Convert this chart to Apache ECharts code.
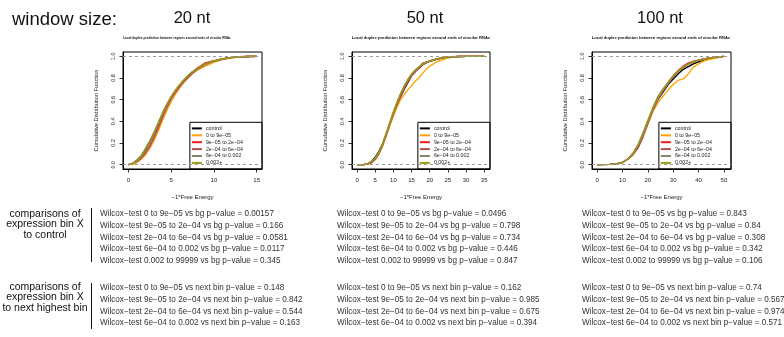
<!DOCTYPE html>
<html>
<head>
<meta charset="utf-8">
<script src="https://cdn.jsdelivr.net/npm/echarts@6/dist/echarts.min.js"></script>
<style>
  html, body { margin: 0; padding: 0; background: #fff; }
  #chart { width: 784px; height: 337px; }
</style>
</head>
<body>
<div id="chart"></div>
<script>
// ---- data ----
const binNames = ["control", "0 to 9e−05", "9e−05 to 2e−04", "2e−04 to 6e−04", "6e−04 to 0.002", "0.002+"];
const windowLabels = ["20 nt", "50 nt", "100 nt"];

// ECDF curves, one x grid per window, one y list per bin (same order as binNames)
const x20 = [0, 0.5, 1, 1.5, 2, 2.5, 3, 3.5, 4, 4.5, 5, 5.5, 6, 6.5, 7, 7.5, 8, 9, 10, 11, 12, 13, 14, 15];
const cdf20 = [
  [0, 0.01, 0.04, 0.08, 0.14, 0.21, 0.29, 0.38, 0.47, 0.55, 0.62, 0.68, 0.73, 0.78, 0.82, 0.855, 0.88, 0.925, 0.955, 0.975, 0.988, 0.995, 0.998, 1],
  [0, 0, 0.02, 0.05, 0.09, 0.15, 0.22, 0.31, 0.41, 0.5, 0.58, 0.65, 0.71, 0.76, 0.8, 0.84, 0.87, 0.91, 0.945, 0.97, 0.985, 0.993, 0.998, 1],
  [0, 0.01, 0.03, 0.06, 0.11, 0.17, 0.25, 0.34, 0.44, 0.53, 0.61, 0.67, 0.72, 0.77, 0.81, 0.85, 0.89, 0.94, 0.96, 0.975, 0.99, 0.996, 0.999, 1],
  [0, 0.01, 0.03, 0.06, 0.11, 0.17, 0.25, 0.35, 0.44, 0.53, 0.61, 0.67, 0.72, 0.77, 0.81, 0.845, 0.875, 0.925, 0.955, 0.975, 0.988, 0.995, 0.998, 1],
  [0, 0.01, 0.03, 0.07, 0.13, 0.2, 0.28, 0.37, 0.46, 0.55, 0.62, 0.68, 0.73, 0.78, 0.82, 0.855, 0.88, 0.925, 0.955, 0.975, 0.988, 0.995, 0.998, 1],
  [0, 0.01, 0.04, 0.08, 0.15, 0.22, 0.3, 0.39, 0.48, 0.56, 0.63, 0.69, 0.74, 0.785, 0.825, 0.86, 0.885, 0.93, 0.958, 0.978, 0.99, 0.996, 0.999, 1]
];
const x50 = [0, 2, 3, 4, 5, 6, 7, 8, 9, 10, 11, 12, 13, 14, 15, 16, 17, 18, 19, 20, 22, 24, 26, 28, 30, 35];
const cdf50 = [
  [0, 0.002, 0.01, 0.03, 0.07, 0.12, 0.19, 0.28, 0.37, 0.46, 0.55, 0.63, 0.7, 0.76, 0.82, 0.86, 0.89, 0.92, 0.94, 0.955, 0.975, 0.987, 0.994, 0.998, 1, 1],
  [0, 0.002, 0.008, 0.02, 0.05, 0.1, 0.17, 0.26, 0.36, 0.45, 0.53, 0.6, 0.65, 0.69, 0.73, 0.77, 0.8, 0.84, 0.88, 0.91, 0.95, 0.975, 0.99, 0.997, 1, 1],
  [0, 0.002, 0.008, 0.02, 0.05, 0.1, 0.18, 0.28, 0.38, 0.48, 0.56, 0.64, 0.71, 0.77, 0.82, 0.86, 0.89, 0.935, 0.945, 0.955, 0.975, 0.99, 0.996, 0.999, 1, 1],
  [0, 0.002, 0.008, 0.02, 0.05, 0.1, 0.18, 0.27, 0.37, 0.47, 0.56, 0.64, 0.71, 0.77, 0.82, 0.86, 0.9, 0.93, 0.945, 0.955, 0.975, 0.988, 0.995, 0.998, 1, 1],
  [0, 0.002, 0.01, 0.03, 0.06, 0.11, 0.19, 0.28, 0.38, 0.48, 0.57, 0.65, 0.72, 0.78, 0.83, 0.87, 0.9, 0.925, 0.945, 0.958, 0.976, 0.988, 0.995, 0.998, 1, 1],
  [0, 0.002, 0.01, 0.03, 0.06, 0.11, 0.19, 0.29, 0.39, 0.49, 0.58, 0.66, 0.73, 0.79, 0.84, 0.875, 0.9, 0.925, 0.945, 0.958, 0.977, 0.989, 0.995, 0.998, 1, 1]
];
const x100 = [0, 5, 8, 10, 12, 14, 16, 18, 20, 22, 24, 26, 28, 30, 32, 34, 36, 38, 40, 42, 44, 46, 48, 50];
const cdf100 = [
  [0, 0.003, 0.01, 0.02, 0.05, 0.09, 0.16, 0.26, 0.38, 0.51, 0.6, 0.67, 0.74, 0.79, 0.84, 0.88, 0.905, 0.93, 0.95, 0.965, 0.975, 0.985, 0.993, 1],
  [0, 0.003, 0.01, 0.02, 0.05, 0.09, 0.15, 0.25, 0.37, 0.49, 0.57, 0.63, 0.69, 0.74, 0.78, 0.79, 0.84, 0.9, 0.93, 0.955, 0.97, 0.98, 0.99, 1],
  [0, 0.003, 0.01, 0.02, 0.05, 0.09, 0.15, 0.26, 0.39, 0.51, 0.61, 0.69, 0.76, 0.82, 0.87, 0.91, 0.94, 0.955, 0.965, 0.975, 0.985, 0.99, 0.995, 1],
  [0, 0.003, 0.01, 0.02, 0.05, 0.09, 0.15, 0.25, 0.38, 0.5, 0.6, 0.68, 0.75, 0.81, 0.86, 0.9, 0.93, 0.95, 0.965, 0.975, 0.983, 0.99, 0.995, 1],
  [0, 0.003, 0.01, 0.02, 0.05, 0.1, 0.17, 0.27, 0.39, 0.51, 0.61, 0.69, 0.75, 0.81, 0.86, 0.895, 0.925, 0.945, 0.96, 0.972, 0.982, 0.99, 0.995, 1],
  [0, 0.003, 0.01, 0.02, 0.05, 0.1, 0.18, 0.29, 0.41, 0.53, 0.63, 0.7, 0.76, 0.82, 0.865, 0.9, 0.93, 0.95, 0.963, 0.973, 0.983, 0.99, 0.995, 1]
];

// axis ticks
const xTicks20 = [0, 5, 10, 15];
const xTicks50 = [0, 5, 10, 15, 20, 25, 30, 35];
const xTicks100 = [0, 10, 20, 30, 40, 50];
const yTicks = [0, 0.2, 0.4, 0.6, 0.8, 1.0];

// wilcoxon tests
const testBins = ["0 to 9e−05", "9e−05 to 2e−04", "2e−04 to 6e−04", "6e−04 to 0.002", "0.002 to 99999"];
const pBg20 = ["0.00157", "0.166", "0.0581", "0.0117", "0.345"];
const pBg50 = ["0.0496", "0.798", "0.734", "0.446", "0.847"];
const pBg100 = ["0.843", "0.84", "0.308", "0.342", "0.106"];
const pNext20 = ["0.148", "0.842", "0.544", "0.163"];
const pNext50 = ["0.162", "0.985", "0.675", "0.394"];
const pNext100 = ["0.74", "0.567", "0.974", "0.571"];

// ---- styling / layout ----
const FONT = "'Liberation Sans', Arial, Helvetica, sans-serif";
const binColors = ["#000000", "#FFA500", "#EE1C1C", "#B5504F", "#8C8270", "#99991A"];
const panels = [
  { xs: x20, cdf: cdf20, ticks: xTicks20, min: -0.62, max: 15.62, left: 123, width: 139, center: 192, titleX: 177, titleSize: 3.2 },
  { xs: x50, cdf: cdf50, ticks: xTicks50, min: -1.4, max: 36.6, left: 352, width: 138, center: 425, titleX: 421, titleSize: 4.1 },
  { xs: x100, cdf: cdf100, ticks: xTicks100, min: -2.0, max: 52.8, left: 592, width: 139, center: 660, titleX: 661, titleSize: 4.1 }
];
const gridTop = 52, gridHeight = 117;
const pTests = [[pBg20, pNext20], [pBg50, pNext50], [pBg100, pNext100]];
const colX = [100, 337, 582];

const chart = echarts.init(document.getElementById("chart"));

const grid = [], xAxis = [], yAxis = [], series = [], legend = [];
panels.forEach((p, i) => {
  grid.push({ left: p.left, top: gridTop, width: p.width, height: gridHeight, show: true, borderColor: "#000", borderWidth: 1, backgroundColor: "transparent" });
  xAxis.push({
    type: "value", gridIndex: i, min: p.min, max: p.max,
    name: "−1*Free Energy", nameLocation: "middle", nameGap: 25,
    nameTextStyle: { fontSize: 6, color: "#222", fontFamily: FONT },
    axisLine: { show: true, onZero: false, lineStyle: { color: "#000", width: 1 } },
    axisTick: { show: true, length: 3.5, customValues: p.ticks, lineStyle: { color: "#000", width: 0.8 } },
    axisLabel: { fontSize: 6, color: "#222", margin: 8, fontFamily: FONT, customValues: p.ticks },
    splitLine: { show: false }
  });
  yAxis.push({
    type: "value", gridIndex: i, min: -0.04, max: 1.04,
    name: "Cumulative Distribution Function", nameLocation: "middle", nameGap: 24,
    nameTextStyle: { fontSize: 5.7, color: "#222", fontFamily: FONT },
    axisLine: { show: true, onZero: false, lineStyle: { color: "#000", width: 1 } },
    axisTick: { show: true, length: 3.5, customValues: yTicks, lineStyle: { color: "#000", width: 0.8 } },
    axisLabel: { fontSize: 5.5, color: "#222", margin: 7, rotate: 90, fontFamily: FONT, customValues: yTicks, formatter: v => v.toFixed(1) },
    splitLine: { show: false }
  });
  binNames.forEach((name, k) => {
    const s = {
      name: name, type: "line", xAxisIndex: i, yAxisIndex: i,
      data: p.xs.map((x, j) => [x, p.cdf[k][j]]),
      showSymbol: false, symbol: "none", color: binColors[k],
      lineStyle: { width: 1.4, color: binColors[k] },
      animation: false, silent: true
    };
    if (k === 0) {
      s.markLine = {
        silent: true, symbol: "none", label: { show: false }, animation: false,
        lineStyle: { type: [3, 3], color: "#9a9a9a", width: 1 },
        data: [{ yAxis: 0 }, { yAxis: 1 }]
      };
    }
    series.push(s);
  });
  legend.push({
    data: binNames, orient: "vertical", selectedMode: false,
    right: 784 - (p.left + p.width), bottom: 337 - (gridTop + gridHeight),
    backgroundColor: "transparent", borderColor: "#000", borderWidth: 1, borderRadius: 0,
    padding: [3, 19, 3, 2], itemGap: 0.7, itemWidth: 10, itemHeight: 2, icon: "rect",
    textStyle: { fontSize: 5.3, lineHeight: 6.2, color: "#222", fontFamily: FONT, padding: [0, 0, 0, -1] }
  });
});

// ---- text around the panels ----
const graphic = [];
graphic.push({ type: "text", x: 12, y: 20, style: { text: "window size:", font: "18.5px " + FONT, fill: "#111", align: "left", verticalAlign: "middle" } });
panels.forEach((p, i) => {
  graphic.push({ type: "text", x: p.center, y: 18, style: { text: windowLabels[i], font: "16.5px " + FONT, fill: "#111", align: "center", verticalAlign: "middle" } });
  graphic.push({ type: "text", x: p.titleX, y: 38, style: { text: "Local duplex prediction between regions around ends of circular RNAs", font: "bold " + p.titleSize + "px " + FONT, fill: "#111", align: "center", verticalAlign: "middle" } });
});

const rowStep = 11.7;
const group1Top = 214, group2Top = 288;
const groupLabels = [["comparisons of", "expression bin X", "to control"], ["comparisons of", "expression bin X", "to next highest bin"]];
const labelMid = [224.5, 297.5];
groupLabels.forEach((lines, g) => {
  lines.forEach((t, j) => {
    graphic.push({ type: "text", x: 45, y: labelMid[g] + (j - 1) * 10.5, style: { text: t, font: "10.5px " + FONT, fill: "#111", align: "center", verticalAlign: "middle" } });
  });
});
graphic.push({ type: "line", shape: { x1: 91.5, y1: 208, x2: 91.5, y2: 262 }, style: { stroke: "#111", lineWidth: 1 } });
graphic.push({ type: "line", shape: { x1: 91.5, y1: 283, x2: 91.5, y2: 329 }, style: { stroke: "#111", lineWidth: 1 } });

pTests.forEach((pair, c) => {
  pair[0].forEach((pv, r) => {
    graphic.push({ type: "text", x: colX[c], y: group1Top + r * rowStep, style: { text: "Wilcox−test " + testBins[r] + " vs bg p−value = " + pv, font: "8.15px " + FONT, fill: "#333", align: "left", verticalAlign: "middle" } });
  });
  pair[1].forEach((pv, r) => {
    graphic.push({ type: "text", x: colX[c], y: group2Top + r * rowStep, style: { text: "Wilcox−test " + testBins[r] + " vs next bin p−value = " + pv, font: "8.15px " + FONT, fill: "#333", align: "left", verticalAlign: "middle" } });
  });
});

chart.setOption({
  animation: false,
  backgroundColor: "#fff",
  grid, xAxis, yAxis, series, legend, graphic
});
</script>
</body>
</html>
